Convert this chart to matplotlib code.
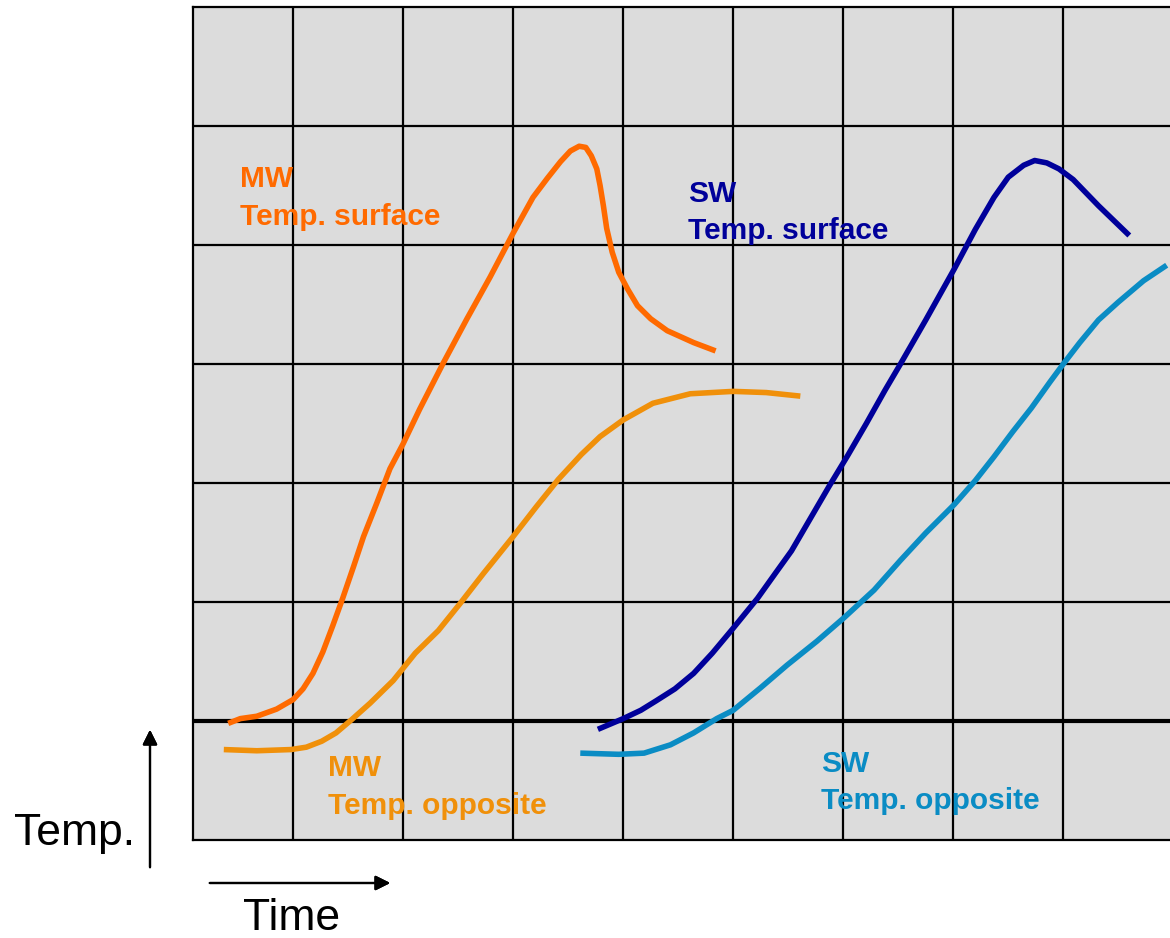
import matplotlib.pyplot as plt

plt.rcParams['font.family'] = ['Liberation Sans', 'DejaVu Sans']

# Kurven (x in Rasterspalten, y in Rasterzeilen ab der dicken Nulllinie)
mw_surf_x = [0.41, 0.52, 0.67, 0.85, 1.0, 1.09, 1.18, 1.27, 1.36, 1.45, 1.55, 1.64, 1.76,
             1.88, 2.0, 2.15, 2.36, 2.58, 2.79, 3.0, 3.18, 3.31, 3.43, 3.52, 3.6, 3.66,
             3.71, 3.76, 3.79, 3.82, 3.85, 3.9, 3.96, 4.04, 4.13, 4.25, 4.4, 4.64, 4.84]
mw_surf_y = [-0.02, 0.02, 0.04, 0.1, 0.18, 0.27, 0.4, 0.58, 0.8, 1.03, 1.3, 1.55, 1.83,
             2.12, 2.33, 2.62, 3.0, 3.38, 3.73, 4.1, 4.4, 4.56, 4.7, 4.79, 4.83, 4.82,
             4.75, 4.64, 4.5, 4.33, 4.14, 3.94, 3.77, 3.63, 3.49, 3.38, 3.28, 3.18, 3.11]

mw_opp_x = [0.37, 0.67, 0.98, 1.12, 1.26, 1.39, 1.53, 1.7, 1.91, 2.11, 2.32, 2.52, 2.73,
            3.0, 3.21, 3.41, 3.62, 3.79, 4.0, 4.27, 4.61, 5.0, 5.3, 5.61]
mw_opp_y = [-0.24, -0.25, -0.24, -0.22, -0.17, -0.1, 0.01, 0.15, 0.34, 0.57, 0.76, 0.99,
            1.24, 1.55, 1.8, 2.03, 2.24, 2.39, 2.53, 2.67, 2.75, 2.77, 2.76, 2.73]

sw_surf_x = [3.77, 4.0, 4.16, 4.3, 4.47, 4.64, 4.81, 5.0, 5.22, 5.39, 5.53, 5.7, 5.87,
             6.04, 6.21, 6.38, 6.52, 6.75, 7.01, 7.2, 7.37, 7.5, 7.64, 7.74, 7.85, 7.96,
             8.09, 8.32, 8.6]
sw_surf_y = [-0.07, 0.02, 0.09, 0.17, 0.27, 0.4, 0.57, 0.78, 1.03, 1.25, 1.43, 1.7, 1.97,
             2.23, 2.5, 2.78, 3.0, 3.37, 3.8, 4.13, 4.4, 4.57, 4.67, 4.71, 4.69, 4.64,
             4.55, 4.33, 4.08]

sw_opp_x = [3.61, 3.96, 4.19, 4.43, 4.64, 4.85, 5.0, 5.25, 5.49, 5.76, 6.01, 6.28, 6.52,
            6.75, 7.01, 7.2, 7.37, 7.54, 7.71, 7.88, 8.0, 8.15, 8.32, 8.5, 8.73, 8.94]
sw_opp_y = [-0.27, -0.28, -0.27, -0.2, -0.1, 0.02, 0.09, 0.28, 0.47, 0.67, 0.87, 1.1, 1.35,
            1.58, 1.82, 2.02, 2.22, 2.43, 2.63, 2.85, 3.0, 3.18, 3.37, 3.52, 3.7, 3.83]

fig = plt.figure(figsize=(11.7, 9.38), dpi=100)
ax = fig.add_axes([193 / 1170, 98 / 938, 977 / 1170, 833 / 938])
ax.set_facecolor('#dcdcdc')

ax.set_xlim(0.09, 8.97)
ax.set_ylim(-1, 6)
ax.set_xticks(range(1, 9))
ax.set_yticks(range(0, 6))
ax.grid(True, color='black', linewidth=1.6)
ax.tick_params(length=0, labelbottom=False, labelleft=False)
for s in ['left', 'top', 'bottom']:
    ax.spines[s].set_linewidth(1.6)
ax.spines['right'].set_visible(False)
ax.axhline(0, color='black', linewidth=3)

lw = 4.0
ax.plot(mw_surf_x, mw_surf_y, color='#ff6a00', lw=lw, solid_capstyle='butt', solid_joinstyle='round')
ax.plot(mw_opp_x, mw_opp_y, color='#f0900a', lw=lw, solid_capstyle='butt', solid_joinstyle='round')
ax.plot(sw_surf_x, sw_surf_y, color='#00009a', lw=lw, solid_capstyle='butt', solid_joinstyle='round')
ax.plot(sw_opp_x, sw_opp_y, color='#0a8cc4', lw=lw, solid_capstyle='butt', solid_joinstyle='round')

kw = dict(fontsize=21.5, fontweight='bold', va='top', ha='left', linespacing=1.44)
ax.text(0.52, 4.67, 'MW\nTemp. surface', color='#ff6a00', **kw)
ax.text(4.59, 4.55, 'SW\nTemp. surface', color='#00009a', **kw)
ax.text(1.32, -0.28, 'MW\nTemp. opposite', color='#f0900a', **kw)
ax.text(5.80, -0.24, 'SW\nTemp. opposite', color='#0a8cc4', **kw)

# Achsenpfeile ausserhalb des Rasters
fig.text(14 / 1170, 1 - 833 / 938, 'Temp.', fontsize=32, va='center', ha='left')
fig.text(243 / 1170, 1 - 918 / 938, 'Time', fontsize=32, va='center', ha='left')
fig.add_artist(plt.annotate('', xy=(150 / 1170, 1 - 727 / 938), xytext=(150 / 1170, 1 - 870 / 938),
                            xycoords='figure fraction', textcoords='figure fraction',
                            arrowprops=dict(arrowstyle='-|>', color='black', lw=1.6,
                                            mutation_scale=22)))
fig.add_artist(plt.annotate('', xy=(393 / 1170, 1 - 883 / 938), xytext=(207 / 1170, 1 - 883 / 938),
                            xycoords='figure fraction', textcoords='figure fraction',
                            arrowprops=dict(arrowstyle='-|>', color='black', lw=1.6,
                                            mutation_scale=22)))

fig.savefig('out.png', dpi=100)
